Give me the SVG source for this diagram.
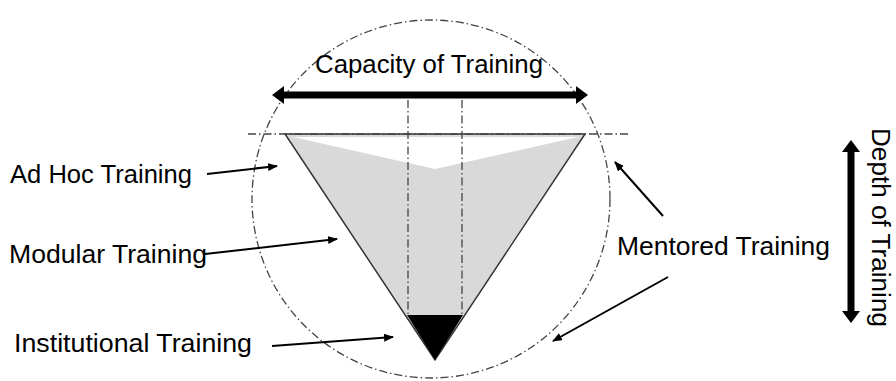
<svg xmlns="http://www.w3.org/2000/svg" width="896" height="381" viewBox="0 0 896 381">
<defs>
<marker id="ah" markerWidth="10" markerHeight="8" refX="9" refY="4" orient="auto" markerUnits="userSpaceOnUse">
<path d="M0,0 L10,4 L0,8 Z" fill="#000"/>
</marker>
<style>
.dd{fill:none;stroke:#444;stroke-width:1.3;stroke-dasharray:8 3 1.5 3}
.lbl{font-family:"Liberation Sans",Arial,sans-serif;font-size:26px;fill:#000}
.thin{stroke:#000;stroke-width:2;fill:none;marker-end:url(#ah)}
</style>
</defs>
<rect width="896" height="381" fill="#fff"/>
<g id="pyramid">
<polygon points="285,134 585,134 435,360" fill="#d9d9d9" stroke="#333" stroke-width="1.5"/>
<polygon points="293,137 578,137 435,169" fill="#fff"/>
<polygon points="407,315 463,315 435,360" fill="#000"/>
</g>
<g id="guides">
<circle class="dd" cx="431" cy="199" r="179"/>
<line class="dd" x1="248" y1="134" x2="628" y2="134"/>
<line class="dd" x1="408" y1="100" x2="408" y2="315"/>
<line class="dd" x1="462" y1="100" x2="462" y2="315"/>
</g>
<g id="capacity">
<line x1="282" y1="95" x2="578" y2="95" stroke="#000" stroke-width="7"/>
<polygon points="272,95 284,86 284,104" fill="#000"/>
<polygon points="588,95 576,86 576,104" fill="#000"/>
<text class="lbl" x="315" y="73" textLength="228" lengthAdjust="spacingAndGlyphs">Capacity of Training</text>
</g>
<g id="depth">
<line x1="851" y1="150" x2="851" y2="313" stroke="#000" stroke-width="7"/>
<polygon points="851,140 842,152 860,152" fill="#000"/>
<polygon points="851,323 842,311 860,311" fill="#000"/>
<text class="lbl" transform="translate(872,128) rotate(90)" x="0" y="0" textLength="199" lengthAdjust="spacingAndGlyphs">Depth of Training</text>
</g>
<g id="adhoc"><text class="lbl" x="10" y="183" textLength="182" lengthAdjust="spacingAndGlyphs">Ad Hoc Training</text></g>
<g id="modular"><text class="lbl" x="9" y="263" textLength="198" lengthAdjust="spacingAndGlyphs">Modular Training</text></g>
<g id="institutional"><text class="lbl" x="14" y="352" textLength="238" lengthAdjust="spacingAndGlyphs">Institutional Training</text></g>
<g id="mentored"><text class="lbl" x="617" y="255" textLength="213" lengthAdjust="spacingAndGlyphs">Mentored Training</text></g>
<g id="connectors">
<line class="thin" x1="207" y1="174" x2="277" y2="166"/>
<line class="thin" x1="205" y1="254" x2="337" y2="239"/>
<line class="thin" x1="272" y1="346" x2="393" y2="337"/>
<line class="thin" x1="663" y1="216" x2="615" y2="162"/>
<line class="thin" x1="668" y1="277" x2="553" y2="341"/>
</g>
</svg>
